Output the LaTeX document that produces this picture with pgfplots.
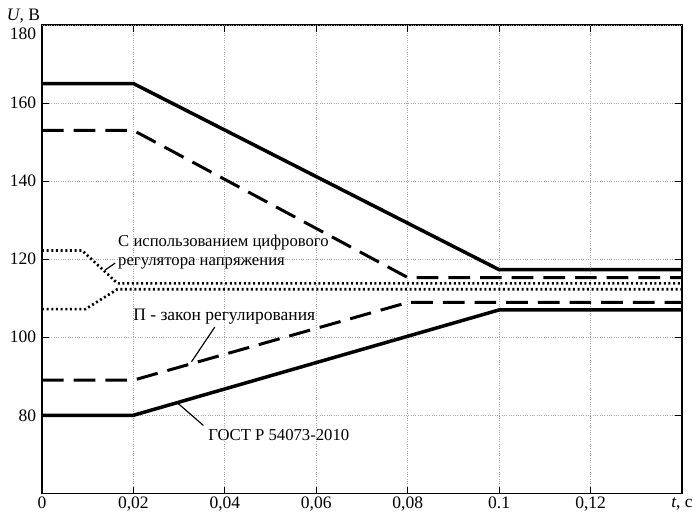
\documentclass[border=0pt]{standalone}
\usepackage{fontspec}
\setmainfont{Liberation Serif}
\usepackage{pgfplots}
\pgfplotsset{compat=1.18}
\begin{document}
\begin{tikzpicture}
\begin{axis}[scale only axis, width=384pt, height=281pt,
  xmin=0, xmax=0.14, ymin=60, ymax=180,
  xtick={0,0.02,0.04,0.06,0.08,0.1,0.12,0.14},
  xticklabels={0,{0,02},{0,04},{0,06},{0,08},0.1,{0,12},{\textit{t}, с}},
  xticklabel style={yshift=1.2pt},
  ytick={80,100,120,140,160},
  extra y ticks={180},
  extra y tick style={yticklabel style={yshift=-5pt}},
  grid=major, grid style={densely dotted, gray!70, line width=0.5pt},
  tick style={black, line width=0.6pt}, major tick length=4pt,
  axis line style={line width=0.9pt},
  tick label style={font=\fontsize{10.5}{12}\selectfont},
  /pgf/number format/assume math mode=true,
]
\addplot[black, line width=2.1pt] coordinates {(0,165)(0.02,165)(0.1,117.3)(0.14,117.3)};
\addplot[black, line width=2.1pt] coordinates {(0,80)(0.02,80)(0.1,107)(0.14,107)};
\addplot[black, line width=1.8pt, dash pattern=on 13pt off 6pt] coordinates {(0,153)(0.02,153)(0.08,115.3)(0.14,115.3)};
\addplot[black, line width=1.8pt, dash pattern=on 13pt off 6pt] coordinates {(0,89)(0.02,89)(0.08,108.9)(0.14,108.9)};
\addplot[black, line width=1.6pt, dash pattern=on 1.2pt off 1.6pt] coordinates {(0,122.2)(0.0088,122.2)(0.0165,113.8)(0.14,113.8)};
\addplot[black, line width=1.6pt, dash pattern=on 1.2pt off 1.6pt] coordinates {(0,107.2)(0.0095,107.2)(0.0165,112.3)(0.14,112.3)};
\addplot[black, line width=0.7pt] coordinates {(0.0138,117.2)(0.0160,119.0)};
\addplot[black, line width=0.7pt] coordinates {(0.0327,93.7)(0.0378,102.6)};
\addplot[black, line width=0.7pt] coordinates {(0.0298,83.0)(0.0353,77.4)};
\node[anchor=west, align=left, inner sep=0pt, font=\fontsize{10}{11.5}\selectfont] at (axis cs:0.0166,121.8) {С использованием цифрового\\регулятора напряжения};
\node[anchor=west, inner sep=0pt, font=\fontsize{10.5}{12}\selectfont] at (axis cs:0.0199,105.3) {П - закон регулирования};
\node[anchor=west, inner sep=0pt, font=\fontsize{10}{12}\selectfont] at (axis cs:0.0363,74.9) {ГОСТ Р 54073-2010};
\coordinate (bl) at (rel axis cs:0,0);
\coordinate (tr) at (rel axis cs:1,1);
\coordinate (tl) at (rel axis cs:0,1);
\end{axis}
\node[anchor=south east, inner sep=1pt, font=\fontsize{10.5}{12}\selectfont] at (tl) {\textit{U}, В};
\pgfresetboundingbox
\path ([xshift=-25.2pt,yshift=-11.8pt]bl) rectangle ([xshift=6pt,yshift=15pt]tr);
\end{tikzpicture}
\end{document}
